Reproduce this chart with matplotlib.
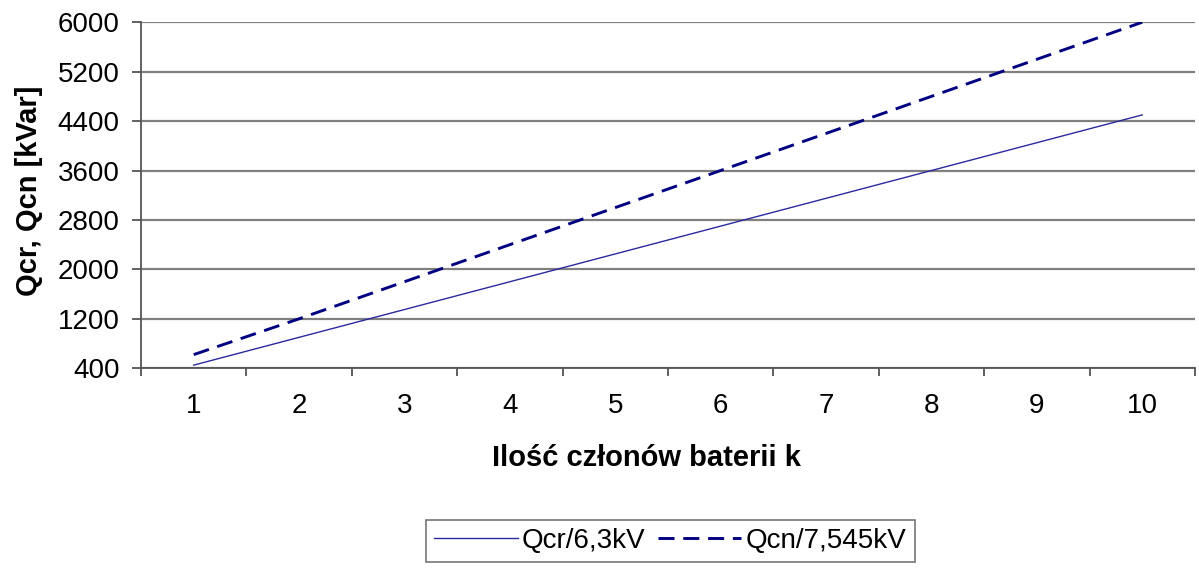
import matplotlib.pyplot as plt
import numpy as np

plt.rcParams['font.family'] = ['Liberation Sans', 'DejaVu Sans']

# data
k = [1, 2, 3, 4, 5, 6, 7, 8, 9, 10]
qcr_63 = [450, 900, 1350, 1800, 2250, 2700, 3150, 3600, 4050, 4500]
qcn_7545 = [620, 1200, 1800, 2400, 3000, 3600, 4200, 4800, 5400, 6000]
y_ticks = [400, 1200, 2000, 2800, 3600, 4400, 5200, 6000]

fig = plt.figure(figsize=(11.99, 5.70), dpi=100)
ax = fig.add_axes([0.1176, 0.354, 0.879, 0.607])

ax.plot(k, qcr_63, color='#2a2aa0', lw=1.0, label='Qcr/6,3kV')
ax.plot(k, qcn_7545, color='#000080', lw=2.1, ls=(0, (5.5, 3)), label='Qcn/7,545kV')

ax.set_xlim(0.5, 10.5)
ax.set_ylim(400, 6000)
ax.set_yticks(y_ticks)
ax.set_xticks(k)
ax.set_xticks(np.arange(0.5, 11, 1), minor=True)
ax.tick_params(axis='x', which='major', length=0, labelsize=20, pad=18)
ax.tick_params(axis='x', which='minor', length=6, width=1.3, color='#555555', direction='out')
ax.tick_params(axis='y', length=6.5, width=1.3, color='#555555', labelsize=20,
               direction='out', pad=9)

ax.grid(axis='y', color='#808080', lw=1.6)
ax.set_axisbelow(True)
for s in ['top', 'right']:
    ax.spines[s].set_visible(False)
for s in ['left', 'bottom']:
    ax.spines[s].set_color('#555555')
    ax.spines[s].set_linewidth(1.3)

fig.text(0.539, 0.196, 'Ilość członów baterii k', fontsize=21, fontweight='bold',
         ha='center', va='center')
fig.text(0.024, 0.665, 'Qcr, Qcn [kVar]', fontsize=21, fontweight='bold',
         ha='center', va='center', rotation=90)

leg = fig.legend(loc='center', bbox_to_anchor=(0.559, 0.051), ncol=2, fontsize=20,
                 frameon=True, fancybox=False, edgecolor='#555555',
                 handlelength=3.0, columnspacing=0.45, handletextpad=0.15,
                 borderpad=0.3, borderaxespad=0)
leg.get_frame().set_linewidth(1.2)

fig.savefig('out.png', dpi=100)
